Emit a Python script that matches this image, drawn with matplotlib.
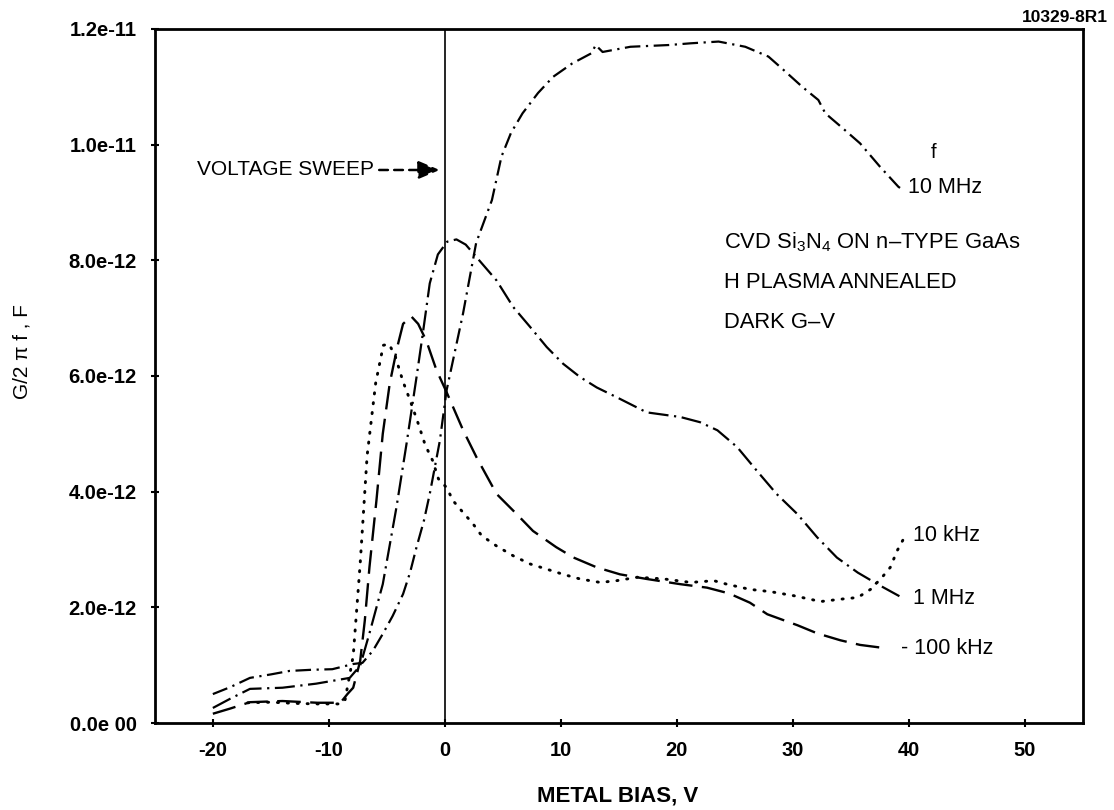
import numpy as np
import matplotlib
matplotlib.use("Agg")
import matplotlib.pyplot as plt

plt.rcParams["font.family"] = ["Liberation Sans", "DejaVu Sans"]
plt.rcParams["mathtext.fontset"] = "custom"
plt.rcParams["mathtext.rm"] = "Liberation Sans"
plt.rcParams["mathtext.it"] = "Liberation Sans"

# G/2pi f in units of 1e-12 F
bias_10mhz = [-20, -18.5, -16.8, -15, -13.4, -11.5, -9.7, -7.9, -7.1, -6.2, -5.35, -4.5, -3.6, -3.0,
              -2.44, -1.8, -1.3, -0.43, 0.15, 1.57, 2.7, 4.06, 4.88, 5.7, 6.7, 8.03, 9.33, 10.97,
              12.66, 13.0, 13.6, 16.0, 19.3, 21.2, 23.6, 25.9, 27.9, 29.2, 30.8, 32.2, 32.8, 34.2,
              35.8, 37.5, 39.1, 39.6]
g_10mhz = [0.5, 0.62, 0.78, 0.84, 0.9, 0.92, 0.93, 1.02, 1.04, 1.25, 1.54, 1.85, 2.23, 2.6,
           3.04, 3.5, 3.96, 4.88, 5.75, 7.08, 8.3, 9.04, 9.79, 10.2, 10.54, 10.89, 11.17, 11.4,
           11.58, 11.72, 11.6, 11.69, 11.72, 11.75, 11.78, 11.69, 11.52, 11.29, 11.0, 10.77, 10.54, 10.3,
           10.02, 9.62, 9.27, 9.2]

bias_1mhz = [-20, -18.5, -16.8, -14, -11.1, -8.2, -7.3, -6.5, -5.35, -4.17, -3.3, -2.44, -1.9, -1.3,
             -0.6, 0.2, 1.0, 1.8, 2.74, 4.46, 5.9, 7.34, 8.78, 10.2, 11.66, 13.1, 14.83, 17.4,
             20.3, 22.0, 23.5, 25.2, 26.9, 28.6, 30.4, 32.1, 33.8, 35.6, 37.3, 39.3]
g_1mhz = [0.26, 0.42, 0.59, 0.61, 0.68, 0.78, 0.99, 1.55, 2.4, 3.73, 4.83, 5.98, 6.73, 7.6,
          8.1, 8.32, 8.36, 8.27, 8.05, 7.65, 7.19, 6.85, 6.5, 6.21, 5.98, 5.8, 5.63, 5.37,
          5.29, 5.2, 5.06, 4.77, 4.36, 3.96, 3.61, 3.21, 2.86, 2.6, 2.4, 2.18]

bias_100khz = [-20, -18.5, -16.8, -14, -11, -9, -8.4, -7.9, -7.3, -6.9, -6.5, -5.9, -5.35, -4.75,
               -4.1, -3.6, -2.9, -2.3, -1.6, -0.72, 0.15, 1.58, 2.74, 4.46, 6.2, 7.6, 9.6, 11.1,
               13.1, 15.1, 17.4, 20.3, 22.6, 24.5, 26.3, 27.8, 30.4, 32.1, 34.1, 35.8, 38.1]
g_100khz = [0.16, 0.25, 0.36, 0.38, 0.35, 0.35, 0.5, 0.61, 1.07, 1.77, 2.69, 3.84, 5.0, 5.87,
            6.5, 6.9, 7.03, 6.9, 6.61, 6.1, 5.72, 5.06, 4.59, 3.96, 3.61, 3.32, 3.04, 2.86,
            2.69, 2.57, 2.49, 2.4, 2.34, 2.24, 2.08, 1.88, 1.69, 1.55, 1.43, 1.35, 1.29]

bias_10khz = [-17, -15, -13, -11, -9, -8.6, -7.9, -7.3, -6.7, -5.96, -5.3, -4.8, -4.26, -3.6,
              -3.0, -2.3, -1.7, -1.06, -0.55, 0.15, 0.72, 1.44, 2.44, 3.17, 4.46, 5.9, 7.34, 8.78,
              10.2, 11.66, 13.4, 14.8, 16.6, 18.9, 21.2, 23.2, 24.3, 26.3, 28.1, 30.1, 32.4, 34.1,
              35.6, 36.7, 37.7, 38.4, 39.0, 39.7]
g_10khz = [0.35, 0.36, 0.34, 0.33, 0.33, 0.4, 1.16, 2.75, 4.62, 5.88, 6.53, 6.55, 6.33, 5.9,
           5.58, 5.18, 4.81, 4.54, 4.22, 4.07, 3.84, 3.67, 3.44, 3.24, 3.06, 2.89, 2.75, 2.66,
           2.57, 2.49, 2.43, 2.46, 2.52, 2.49, 2.43, 2.46, 2.4, 2.31, 2.27, 2.2, 2.1, 2.14,
           2.17, 2.31, 2.52, 2.69, 2.98, 3.24]

x_ticks = [-20, -10, 0, 10, 20, 30, 40, 50]
y_ticks = [0, 2e-12, 4e-12, 6e-12, 8e-12, 1e-11, 1.2e-11]
y_tick_labels = ["0.0e 00", "2.0e-12", "4.0e-12", "6.0e-12", "8.0e-12", "1.0e-11", "1.2e-11"]

# curve labels: (text, x, y in 1e-12)
curve_labels = [("10 MHz", 39.9, 9.25), ("10 kHz", 40.4, 3.24),
                ("1 MHz", 40.4, 2.16), ("- 100 kHz", 39.3, 1.28)]
sample_notes = ["CVD Si$_3$N$_4$ ON n\u2013TYPE GaAs", "H PLASMA ANNEALED", "DARK G\u2013V"]


def plot_gv():
    fig = plt.figure(figsize=(11.14, 8.10), dpi=100, facecolor="w")
    ax = fig.add_axes([0.139, 0.1074, 0.833, 0.857])
    scale = 1e-12

    ax.plot(bias_10mhz, np.array(g_10mhz) * scale, color="black", lw=1.6,
            linestyle=(0, (7, 2.5, 1, 2.5)))
    ax.plot(bias_1mhz, np.array(g_1mhz) * scale, color="black", lw=1.6,
            linestyle=(0, (9, 2.5, 1, 2.5)))
    ax.plot(bias_100khz, np.array(g_100khz) * scale, color="black", lw=1.7,
            linestyle=(0, (10, 4)))
    ax.plot(bias_10khz, np.array(g_10khz) * scale, color="black", lw=2.1,
            linestyle=(0, (0.4, 3)), dash_capstyle="round")
    ax.axvline(0, color="black", lw=1.2)

    ax.set_xlim(-25, 55)
    ax.set_ylim(0, 1.2e-11)
    ax.set_xticks(x_ticks)
    ax.set_xticklabels([str(t) for t in x_ticks])
    ax.set_yticks(y_ticks)
    ax.set_yticklabels(y_tick_labels)
    ax.tick_params(direction="inout", length=6, width=1.5, pad=10)
    for lab in ax.get_xticklabels() + ax.get_yticklabels():
        lab.set_fontsize(14.5)
        lab.set_fontweight("bold")
    for sp in ax.spines.values():
        sp.set_linewidth(2)

    # voltage sweep arrow
    ax.text(-21.4, 9.56 * scale, "VOLTAGE SWEEP", fontsize=15, va="center", ha="left")
    ax.annotate("", xy=(-0.2, 9.56 * scale), xytext=(-5.9, 9.56 * scale),
                arrowprops=dict(arrowstyle="-|>,head_length=1.3,head_width=0.55",
                                color="black", lw=1.8, linestyle=(0, (3.5, 2.5))))

    ax.text(41.9, 9.87 * scale, "f", fontsize=14.5, ha="left", va="center")
    for txt, x, y in curve_labels:
        ax.text(x, y * scale, txt, fontsize=15.5, ha="left", va="center")
    for i, txt in enumerate(sample_notes):
        ax.text(24.1, (8.31 - 0.69 * i) * scale, txt, fontsize=15.8, ha="left", va="center")

    fig.text(22 / 1114, 1 - 352 / 810, "G/2 \u03c0 f , F", rotation=90, fontsize=15,
             ha="center", va="center")
    fig.text(618 / 1114, 1 - 796 / 810, "METAL BIAS, V", fontsize=16, fontweight="bold",
             ha="center", va="center")
    fig.text(1108 / 1114, 1 - 17 / 810, "10329-8R1", fontsize=12.5, fontweight="bold",
             ha="right", va="center")
    fig.savefig("out.png", dpi=100)


if __name__ == "__main__":
    plot_gv()
